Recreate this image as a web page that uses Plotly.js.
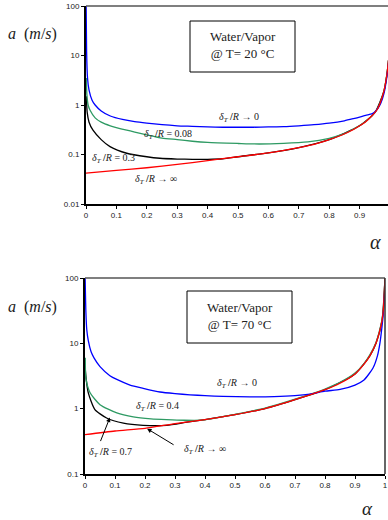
<!DOCTYPE html>
<html>
<head>
<meta charset="utf-8">
<script src="https://cdn.plot.ly/plotly-3.0.1.min.js"></script>
<style>
html,body{margin:0;padding:0;overflow:hidden;background:#fff;}
#chart{width:392px;height:520px;}
</style>
</head>
<body>
<div id="chart"></div>
<script>
// ---------- DATA: top chart (T = 20 °C) ----------
const top0_alpha  = [0.0005,0.002,0.005,0.01,0.02,0.03,0.05,0.08,0.12,0.16,0.2,0.25,0.3,0.35,0.4,0.45,0.5,0.55,0.6,0.65,0.7,0.75,0.8,0.85,0.88,0.9,0.92,0.94,0.95,0.96,0.97,0.98,0.99,0.995];
const top0_a      = [100,12,3.5,2.0,1.25,1.0,0.76,0.6,0.51,0.46,0.43,0.4,0.38,0.37,0.36,0.355,0.355,0.355,0.36,0.365,0.38,0.4,0.43,0.48,0.53,0.57,0.62,0.66,0.72,0.85,1.1,1.7,3.8,7];
const top008_alpha= [0.001,0.003,0.007,0.013,0.03,0.05,0.08,0.134,0.2,0.25,0.3,0.35,0.4,0.5,0.57,0.65,0.73,0.8,0.83,0.85,0.9,0.92,0.94,0.95,0.96,0.97,0.98,0.99,0.995];
const top008_a    = [3.5,1.6,1.0,0.79,0.55,0.45,0.38,0.31,0.25,0.215,0.2,0.185,0.175,0.167,0.163,0.168,0.18,0.212,0.24,0.265,0.385,0.465,0.6,0.71,0.86,1.2,1.9,4.2,8];
const top03_alpha = [0.001,0.004,0.01,0.023,0.05,0.079,0.134,0.2,0.243,0.3,0.35,0.4,0.45,0.5,0.6,0.7,0.8,0.9,0.95,0.98,0.99,0.995];
const top03_a     = [1.5,0.7,0.45,0.31,0.2,0.144,0.106,0.09,0.084,0.081,0.08,0.08,0.082,0.09,0.108,0.138,0.2,0.38,0.7,1.9,4.2,8];
const topInf_alpha= [0,0.1,0.2,0.3,0.4,0.5,0.6,0.7,0.75,0.8,0.84,0.88,0.9,0.92,0.94,0.95,0.96,0.97,0.98,0.99,0.995];
const topInf_a    = [0.042,0.048,0.054,0.063,0.075,0.09,0.108,0.138,0.16,0.2,0.245,0.32,0.38,0.46,0.6,0.7,0.85,1.2,1.9,4.2,8];

// ---------- DATA: bottom chart (T = 70 °C) ----------
const bot0_alpha  = [0.0005,0.003,0.006,0.011,0.02,0.03,0.05,0.083,0.106,0.15,0.194,0.25,0.3,0.35,0.4,0.46,0.55,0.63,0.7,0.75,0.8,0.85,0.9,0.93,0.96,0.975,0.983,0.99,0.995,1.0];
const bot0_a      = [100,30,16,11,7.5,6,4.4,3.2,2.8,2.3,2.05,1.8,1.7,1.63,1.58,1.54,1.52,1.53,1.58,1.67,1.85,1.97,2.3,2.75,4.2,6.5,10,18,31,80];
const bot04_alpha = [0.001,0.003,0.017,0.05,0.106,0.161,0.22,0.272,0.33,0.383,0.42,0.5,0.6,0.7,0.8,0.85,0.9,0.93,0.95,0.97,0.98,0.99,0.995,1.0];
const bot04_a     = [6,2.9,1.75,1.15,0.86,0.75,0.7,0.68,0.665,0.665,0.7,0.82,1.02,1.4,2.0,2.52,3.5,4.9,6.7,10.3,14.5,23,36,100];
const bot07_alpha = [0.001,0.004,0.011,0.033,0.072,0.128,0.194,0.272,0.34,0.4,0.5,0.6,0.7,0.8,0.9,0.95,0.97,0.99,1.0];
const bot07_a     = [4,2.8,1.74,0.97,0.72,0.6,0.555,0.555,0.62,0.68,0.81,1.0,1.37,1.95,3.4,6.5,10,22,100];
const botInf_alpha= [0,0.1,0.2,0.3,0.4,0.5,0.6,0.7,0.8,0.85,0.9,0.93,0.95,0.97,0.98,0.99,0.995,1.0];
const botInf_a    = [0.4,0.455,0.5,0.59,0.68,0.81,1.0,1.37,1.95,2.45,3.4,4.8,6.5,10,14,22,35,100];

const topXticks = [0,0.1,0.2,0.3,0.4,0.5,0.6,0.7,0.8,0.9];
const botXticks = [0,0.1,0.2,0.3,0.4,0.5,0.6,0.7,0.8,0.9,1];
const topYticks = [0.01,0.1,1,10,100];
const topYtext  = ["0.01","0.1","1","10","100"];
const botYticks = [0.1,1,10,100];
const botYtext  = ["0.1","1","10","100"];

// ---------- helpers: pixel -> paper ----------
const L=85, W=307, B=474, H=468;
const px = v => (v-L)/W;
const py = v => (B-v)/H;

const BLUE='#0000ff', GREEN='#2e9a63', BLACK='#000000', RED='#ff0000';
const lw=1.3;
function tr(x,y,c,xa,ya){return {x:x,y:y,type:'scatter',mode:'lines',line:{color:c,width:lw,shape:'spline',smoothing:0.6},xaxis:xa,yaxis:ya,hoverinfo:'skip'};}

const data=[
  tr(top03_alpha,top03_a,BLACK,'x','y'),
  tr(top008_alpha,top008_a,GREEN,'x','y'),
  tr(top0_alpha,top0_a,BLUE,'x','y'),
  tr(topInf_alpha,topInf_a,RED,'x','y'),
  tr(bot07_alpha,bot07_a,BLACK,'x2','y2'),
  tr(bot04_alpha,bot04_a,GREEN,'x2','y2'),
  tr(bot0_alpha,bot0_a,BLUE,'x2','y2'),
  tr(botInf_alpha,botInf_a,RED,'x2','y2')
];

const tickFont={family:"'Liberation Sans', Arial, sans-serif",size:8,color:'#222'};
function xax(dom,tv,anchor){return {domain:dom,range:[0,1],tickvals:tv,ticktext:tv.map(String),showline:true,linecolor:'#000',linewidth:1.5,ticks:'outside',ticklen:3,tickwidth:1,tickcolor:'#000',showgrid:false,zeroline:false,tickfont:tickFont,anchor:anchor,fixedrange:true};}
function yax(dom,rng,tv,tt,anchor){return {domain:dom,type:'log',range:rng,tickvals:tv,ticktext:tt,showline:true,linecolor:'#000',linewidth:2,ticks:'outside',ticklen:3,tickwidth:1,tickcolor:'#000',showgrid:false,zeroline:false,tickfont:tickFont,anchor:anchor,fixedrange:true};}

const serif="'Liberation Serif', 'Times New Roman', serif";
function lab(x,y,txt,size){return {xref:'paper',yref:'paper',x:px(x),y:py(y),text:txt,showarrow:false,xanchor:'center',yanchor:'middle',font:{family:serif,size:size||10,color:'#222'}};}
const d='<i>δ<sub>T</sub></i> <b>/</b><i>R</i>';

const annotations=[
  lab(32,34,'<i>a</i>  (<i>m</i>/<i>s</i>)',16),
  lab(32,307,'<i>a</i>  (<i>m</i>/<i>s</i>)',16),
  lab(375,242,'<i>α</i>',20),
  lab(367,508,'<i>α</i>',19),
  lab(242.5,45,'Water/Vapor<br>@ T= 20 °C',13),
  lab(239.5,316,'Water/Vapor<br>@ T= 70 °C',13),
  lab(239,117,d+' → 0'),
  lab(168,134,d+' = 0.08'),
  lab(113,159,d+' = 0.3'),
  lab(156,179,d+' → ∞'),
  lab(237,383,d+' → 0'),
  lab(157,406,d+' = 0.4'),
  lab(110,452,d+' = 0.7'),
  lab(205,449,d+' → ∞'),
  {xref:'x2',yref:'y2',x:0.083,y:Math.log10(0.73),text:'',showarrow:true,arrowhead:2,arrowsize:0.9,arrowwidth:1,arrowcolor:'#000',ax:-10,ay:25},
  {xref:'x2',yref:'y2',x:0.207,y:Math.log10(0.494),text:'',showarrow:true,arrowhead:2,arrowsize:0.9,arrowwidth:1,arrowcolor:'#000',ax:28,ay:17}
];

const shapes=[
  {type:'line',xref:'paper',yref:'paper',x0:px(86),x1:px(392),y0:py(6),y1:py(6),line:{color:'#555',width:1.5}},
  {type:'line',xref:'paper',yref:'paper',x0:px(85),x1:px(385),y0:py(278),y1:py(278),line:{color:'#555',width:1.5}},
  {type:'line',xref:'paper',yref:'paper',x0:px(385),x1:px(385),y0:py(278),y1:py(474),line:{color:'#333',width:1.5}},
  {type:'rect',xref:'paper',yref:'paper',x0:px(190),x1:px(295),y0:py(21),y1:py(72),line:{color:'#000',width:1},fillcolor:'rgba(0,0,0,0)'},
  {type:'rect',xref:'paper',yref:'paper',x0:px(187),x1:px(292),y0:py(291),y1:py(343),line:{color:'#000',width:1},fillcolor:'rgba(0,0,0,0)'}
];

const layout={
  width:392,height:520,
  margin:{l:85,r:0,t:6,b:46},
  paper_bgcolor:'#fff',plot_bgcolor:'#fff',
  showlegend:false,
  xaxis:xax([px(86),px(390)],topXticks,'y'),
  yaxis:yax([py(204),1],[-2,2],topYticks,topYtext,'x'),
  xaxis2:xax([0,px(385)],botXticks,'y2'),
  yaxis2:yax([0,py(278)],[-1,2],botYticks,botYtext,'x2'),
  annotations:annotations,
  shapes:shapes
};
Plotly.newPlot('chart',data,layout,{staticPlot:true,displayModeBar:false});
</script>
</body>
</html>
